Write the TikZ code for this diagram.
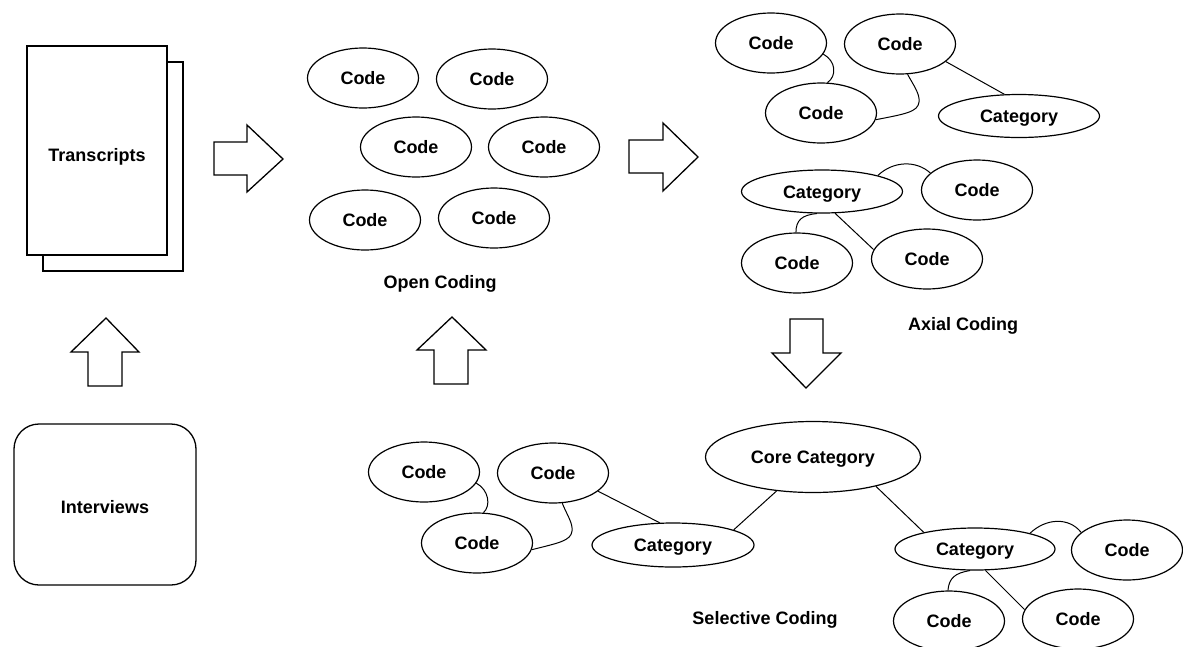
\documentclass[tikz,border=0pt]{standalone}
\usepackage{fontspec}
\setmainfont{Liberation Sans}
\usetikzlibrary{shapes.geometric}
\tikzset{
  ell/.style={draw, ellipse, line width=1.2pt, inner sep=0pt,
              text height=13pt, text depth=0pt,
              minimum width=111pt, minimum height=60pt},
  cat/.style={ell, minimum width=161pt, minimum height=43pt},
  core/.style={ell, minimum width=215pt, minimum height=71pt},
  link/.style={line width=1pt},
  blockarrow/.style={draw, line width=1.3pt, fill=white, line join=miter},
  caption/.style={inner sep=0pt},
  paper/.style={draw, line width=1.3pt, fill=white, inner sep=0pt,
                minimum width=140pt, minimum height=209pt}
}
\begin{document}
\begin{tikzpicture}[x=1pt, y=-1pt,
  every node/.style={font=\bfseries\fontsize{18}{20}\selectfont}]
\useasboundingbox (0,0) rectangle (1183,646);

% --- sources ---------------------------------------------------------
\node[paper] (backpage) at (113,166.5) {};
\node[paper, text height=22pt, text depth=0pt] (trans) at (97,150.5) {Transcripts};
\node[draw, line width=1.3pt, rounded corners=25pt, inner sep=0pt,
      text height=18pt, text depth=0pt,
      minimum width=182pt, minimum height=161pt] (interv) at (105,504.5) {Interviews};

% --- block arrows ----------------------------------------------------
\draw[blockarrow] (214,142) -- (247,142) -- (247,125) -- (283,159)
  -- (247,192) -- (247,175) -- (214,175) -- cycle;
\draw[blockarrow] (629,140) -- (663,140) -- (663,123) -- (698,157)
  -- (663,191) -- (663,173) -- (629,173) -- cycle;
\draw[blockarrow] (790,319) -- (823,319) -- (823,353) -- (841,353)
  -- (806,388) -- (772,353) -- (790,353) -- cycle;
\draw[blockarrow] (88,386) -- (122,386) -- (122,352) -- (139,352)
  -- (106,318) -- (71,352) -- (88,352) -- cycle;
\draw[blockarrow] (434,384) -- (468,384) -- (468,350) -- (486,350)
  -- (452,317) -- (417,350) -- (434,350) -- cycle;

% --- open coding -----------------------------------------------------
\node[ell] (o1) at (363,78)  {Code};
\node[ell] (o2) at (492,79)  {Code};
\node[ell] (o3) at (416,147) {Code};
\node[ell] (o4) at (544,147) {Code};
\node[ell] (o5) at (365,220) {Code};
\node[ell] (o6) at (494,218) {Code};
\node[caption] (openlbl) at (440,284) {Open Coding};

% --- axial coding ----------------------------------------------------
\node[ell] (a1) at (771,43)  {Code};
\node[ell] (a2) at (900,44)  {Code};
\node[ell] (a3) at (821,113) {Code};
\node[cat] (ac1) at (1019,116) {Category};
\node[cat] (ac2) at (822,191.5) {Category};
\node[ell] (a4) at (977,190) {Code};
\node[ell] (a5) at (797,263) {Code};
\node[ell] (a6) at (927,259) {Code};
\node[caption] (axiallbl) at (963,326) {Axial Coding};

\draw[link] (a1.-12) .. controls (836,61) and (837,76) .. (a3.78);
\draw[link] (a2.-76) .. controls (914,86) and (920,94) .. (919,102)
  .. controls (918,112) and (905,114) .. (a3.-7);
\draw[link] (a2.-21) -- (ac1.124);
\draw[link] (ac2.16) .. controls (893,161) and (916,160) .. (a4.160);
\draw[link] (ac2.-103) .. controls (802,215) and (796,220) .. (a5.92);
\draw[link] (ac2.-59) -- (a6.170);

% --- selective coding ------------------------------------------------
\node[ell] (s1) at (424,472) {Code};
\node[ell] (s2) at (553,473) {Code};
\node[ell] (s3) at (477,543) {Code};
\node[cat, minimum width=162pt, minimum height=44pt] (sc1) at (673,545) {Category};
\node[core] (corecat) at (813,457) {Core Category};
\node[cat, minimum width=160pt, minimum height=42pt] (sc2) at (975,549) {Category};
\node[ell] (s4) at (1127,550) {Code};
\node[ell] (s5) at (949,621) {Code};
\node[ell] (s6) at (1078,619) {Code};
\node[caption] (selectlbl) at (765,620) {Selective Coding};

\draw[link] (s1.-12) .. controls (489,490) and (491,506) .. (s3.78);
\draw[link] (s2.-73) .. controls (567,515) and (573,523) .. (572,531)
  .. controls (571,541) and (558,543) .. (s3.-7);
\draw[link] (s2.-22) -- (sc1.121);
\draw[link] (sc1.14) -- (corecat.-137);
\draw[link] (corecat.-25) -- (sc2.162);
\draw[link] (sc2.16) .. controls (1046,518) and (1069,517) .. (s4.159);
\draw[link] (sc2.-103) .. controls (955,573) and (949,578) .. (s5.92);
\draw[link] (sc2.-64) -- (s6.170);
\end{tikzpicture}
\end{document}
